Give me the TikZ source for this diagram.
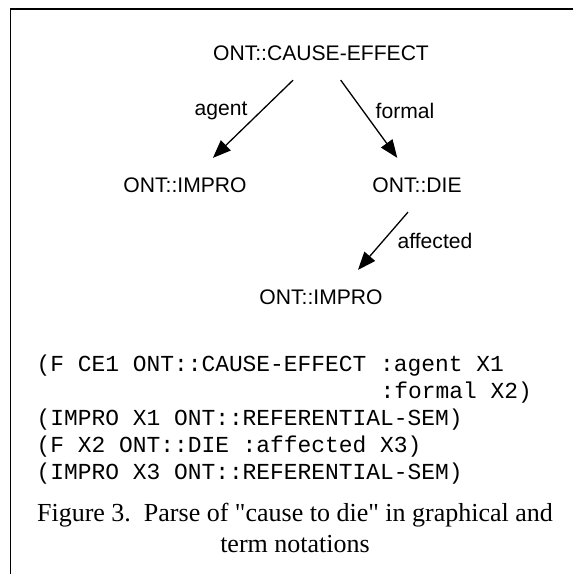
\documentclass[tikz,border=0pt]{standalone}
\usepackage{fontspec}
\setmainfont{Liberation Serif}[Ligatures=TeXOff]
\setsansfont{Liberation Sans}
\setmonofont{Liberation Mono}
\usetikzlibrary{arrows.meta}

\newcommand{\conceptfont}{\sffamily\fontsize{21.1}{25}\selectfont}
\newcommand{\termfont}{\ttfamily\fontsize{22.9}{27}\selectfont}
\newcommand{\figcapfont}{\rmfamily\fontsize{26}{30}\selectfont}

\tikzset{
  concept/.style={font=\conceptfont, inner xsep=2pt, inner ysep=19pt},
  role/.style={font=\conceptfont, inner sep=0pt},
  term/.style={font=\termfont, anchor=base west, inner sep=0pt},
  figcap/.style={font=\figcapfont, anchor=base, inner sep=0pt}
}

\begin{document}
\begin{tikzpicture}[x=1pt, y=-1pt, line width=1.3pt, >={Triangle[length=18pt,width=14pt]}]
  \useasboundingbox (0,0) rectangle (573,574);
  \draw[line width=1.8pt] (10.5,574) -- (10.5,9) -- (573,9);

  \node[concept] (ce) at (321,53) {ONT::CAUSE-EFFECT};
  \node[concept] (impro1) at (185,185) {ONT::IMPRO};
  \node[concept] (die) at (417,185) {ONT::DIE};
  \node[concept] (impro2) at (321,297) {ONT::IMPRO};
  \node[role] (agent) at (221,111) {agent};
  \node[role] (formal) at (405,111) {formal};
  \node[role] (affected) at (435,241) {affected};

  \draw[->] (ce) -- (impro1);
  \draw[->] (ce) -- (die);
  \draw[->] ([xshift=-9pt]die.south) -- ([xshift=37pt]impro2.north);

  \node[term] (term1) at (36,371) {(F CE1 ONT::CAUSE-EFFECT :agent X1};
  \node[term] (term2) at (380,398) {:formal X2)};
  \node[term] (term3) at (36,425) {(IMPRO X1 ONT::REFERENTIAL-SEM)};
  \node[term] (term4) at (36,452) {(F X2 ONT::DIE :affected X3)};
  \node[term] (term5) at (36,479) {(IMPRO X3 ONT::REFERENTIAL-SEM)};

  \node[figcap] (cap1) at (295,521) {Figure 3.\ \ Parse of "cause to die" in graphical and};
  \node[figcap] (cap2) at (295,552) {term notations};
\end{tikzpicture}
\end{document}
